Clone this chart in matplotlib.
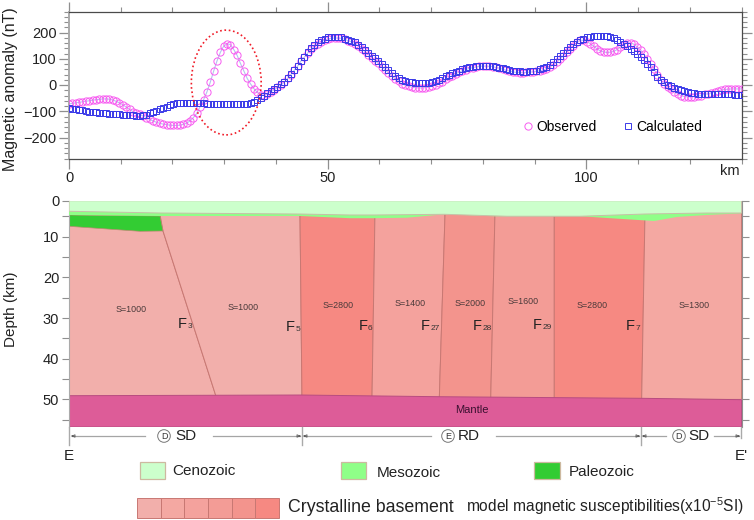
import matplotlib
matplotlib.use("Agg")
import matplotlib.pyplot as plt
import numpy as np
from matplotlib.patches import Circle, Ellipse, Rectangle

plt.rcParams['font.family'] = ['Liberation Sans', 'DejaVu Sans']
plt.rcParams['mathtext.default'] = 'regular'

# profile sampled every 0.65 km
km = 0.65 * np.arange(201)
observed = [
    -72, -70, -68, -66, -64, -62, -60, -58, -56, -55,
    -53, -53, -54, -57, -62, -68, -75, -84, -93, -101,
    -106, -112, -118, -124, -131, -137, -142, -146, -149, -151,
    -153, -154, -154, -153, -150, -145, -137, -124, -108, -82,
    -57, -27, 10, 52, 91, 124, 148, 157, 154, 135,
    113, 82, 54, 25, 4, -14, -28, -37, -40, -34,
    -26, -18, -9, 0, 11, 25, 40, 56, 72, 92,
    106, 122, 136, 148, 158, 165, 171, 175, 178, 179,
    179, 178, 174, 169, 164, 158, 149, 139, 128, 116,
    104, 93, 82, 70, 58, 46, 35, 24, 14, 5,
    -1, -5, -8, -10, -11, -11, -10, -8, -5, 0,
    6, 13, 21, 29, 36, 43, 49, 54, 59, 63,
    66, 69, 71, 72, 72, 71, 70, 67, 64, 60,
    56, 53, 50, 48, 47, 47, 48, 49, 50, 52,
    54, 57, 62, 69, 77, 87, 99, 112, 125, 138,
    150, 162, 171, 170, 165, 158, 148, 138, 130, 126,
    124, 125, 128, 135, 145, 153, 159, 161, 155, 145,
    133, 117, 98, 80, 60, 40, 19, 5, -7, -17,
    -25, -33, -40, -44, -45, -45, -44, -42, -40, -36,
    -33, -30, -26, -22, -19, -17, -16, -15, -15, -15,
    -15]
calculated = [
    -89, -91, -93, -95, -97, -99, -101, -102, -104, -105,
    -107, -108, -109, -110, -111, -112, -113, -114, -115, -116,
    -118, -118, -116, -113, -108, -103, -98, -92, -86, -82,
    -77, -73, -70, -69, -68, -68, -69, -69, -70, -70,
    -70, -71, -71, -72, -72, -72, -73, -73, -73, -74,
    -73, -73, -72, -71, -68, -65, -58, -50, -40, -32,
    -24, -16, -7, 2, 13, 27, 42, 57, 73, 91,
    108, 125, 141, 154, 165, 172, 177, 181, 183, 184,
    184, 182, 177, 172, 167, 162, 153, 143, 133, 122,
    111, 101, 90, 79, 68, 57, 46, 36, 27, 20,
    16, 13, 10, 8, 6, 6, 6, 8, 11, 15,
    20, 26, 33, 39, 45, 50, 55, 60, 64, 67,
    70, 72, 73, 74, 73, 72, 71, 69, 66, 63,
    60, 57, 55, 53, 52, 51, 51, 52, 53, 55,
    60, 64, 70, 78, 87, 98, 110, 122, 134, 146,
    156, 165, 172, 177, 181, 183, 185, 186, 186, 186,
    185, 184, 178, 172, 165, 157, 148, 139, 130, 118,
    107, 94, 80, 67, 50, 32, 20, 10, 1, -5,
    -10, -15, -19, -23, -27, -30, -32, -33, -34, -35,
    -35, -35, -35, -35, -35, -36, -36, -36, -37, -37,
    -38]

# section boundaries, km / depth as drawn
surface_km = [0, 130]
surface_d = [1.18, 1.18]
ceno_km = [0, 17.6, 44.65, 54.3, 59, 72.6, 84.7, 98.8, 111.3, 123.3, 130]
ceno_d = [3.78, 4.2, 4.45, 4.69, 4.69, 4.52, 5.0, 5.0, 4.45, 4.2, 4.2]
base_km = [0, 17.6, 44.65, 54.3, 59, 65.3, 72.6, 82.35, 84.7, 98.8, 104, 113.1, 117.5, 123.3, 130]
base_d = [4.69, 4.94, 4.94, 5.48, 5.48, 5.36, 4.52, 5.0, 5.0, 5.0, 5.43, 6.17, 5.18, 4.69, 4.28]
paleo_km = [0, 17.6, 18.17, 13.73, 0]
paleo_d = [4.69, 4.94, 8.62, 8.7, 7.47]
mantle_km = [0, 44.65, 71.6, 110.7, 130]
mantle_d = [49.09, 48.92, 49.34, 49.73, 50.07]
section_bottom = 56.78

faults_km = [[0, 0],
             [17.5, 18.17, 28.61],
             [44.65, 45.04],
             [59.15, 58.57],
             [72.7, 71.58],
             [82.35, 81.52],
             [93.81, 93.81],
             [111.35, 110.7],
             [130, 130]]
faults_d = [[4, 50],
            [4, 8.62, 50],
            [4, 50],
            [4, 50],
            [4, 50],
            [4, 50],
            [4, 50],
            [4, 50],
            [4, 50]]
block_colors = ['#F2AFAB', '#F2AFAB', '#F68982', '#F4A29D', '#F3948D', '#F39C96', '#F68982', '#F4A8A2']

s_labels = ['S=1000', 'S=1000', 'S=2800', 'S=1400', 'S=2000', 'S=1600', 'S=2800', 'S=1300']
s_x = [131, 243, 338, 410, 470, 523, 592, 694]
s_y = [310, 307, 305, 303, 303, 302, 306, 305]
f_subs = ['3', '5', '6', '27', '28', '29', '7']
f_x = [178, 286, 358.5, 421, 473, 533, 626]
f_y = [324, 327, 326, 326, 326, 325, 326]
legend_shades = ['#F2AFAB', '#F4A8A2', '#F4A29D', '#F39C96', '#F3948D', '#F68982']

W, H = 754, 520
fig = plt.figure(figsize=(W / 100, H / 100), dpi=100)


def px_axes(left, top, right, bottom):
    return fig.add_axes([left / W, 1 - bottom / H, (right - left) / W, (bottom - top) / H])


GRAY = '#8f8f8f'
DARK = '#4a4a4a'

# magnetic panel
ax = px_axes(69, 11.5, 741.5, 158.5)
ax.plot(km, observed, color='#B4C4EE', lw=0.8, zorder=2)
ax.plot(km, observed, ls='none', marker='o', ms=5.2, mfc='none', mec='#F75CF0', mew=0.7,
        label='Observed', zorder=3)
ax.plot(km, calculated, ls='none', marker='s', ms=4.2, mfc='none', mec='#3A3AE8', mew=0.7,
        label='Calculated', zorder=4)
ax.add_patch(Ellipse((30.4, 9.5), 13.5, 399, fill=False, ec='#F01C28', lw=1.2, ls=(0, (1, 1.6)), zorder=5))
ax.set_xlim(0, 130)
ax.set_ylim(-280, 280)
ax.set_xticks(np.arange(0, 131, 50))
ax.set_xticks(np.arange(0, 131, 10), minor=True)
ax.set_yticks(np.arange(-200, 201, 100))
ax.set_yticks(np.arange(-280, 281, 20), minor=True)
ax.set_yticklabels(['\u2212200', '\u2212100', '0', '100', '200'])
ax.tick_params(axis='both', which='major', length=7, width=0.9, color=GRAY, labelsize=10.5, labelcolor='#222222')
ax.tick_params(axis='both', which='minor', length=3.5, width=0.8, color=GRAY)
ax.tick_params(axis='x', which='both', top=True)
ax.tick_params(axis='y', which='both', right=True, labelright=False)
ax.tick_params(axis='y', which='major', pad=2)
ax.tick_params(axis='x', which='major', pad=2)
for side in ['top', 'bottom', 'right']:
    ax.spines[side].set_color(DARK)
    ax.spines[side].set_linewidth(0.9)
ax.spines['left'].set_color('#aaaaaa')
ax.spines['left'].set_linewidth(1.4)
ax.set_ylabel('Magnetic anomaly (nT)', fontsize=11.5, color='#222222')
ax.yaxis.set_label_coords(-0.076, 0.47)
ax.legend(loc='lower right', bbox_to_anchor=(0.941, 0.165), ncol=2, frameon=False, fontsize=10,
          handletextpad=0.1, columnspacing=1.7, handlelength=1.0, borderpad=0, borderaxespad=0)

# depth section
sec = px_axes(69, 200.7, 741.5, 427)
for i, color in enumerate(block_colors):
    xs = list(faults_km[i]) + list(faults_km[i + 1])[::-1]
    ys = list(faults_d[i]) + list(faults_d[i + 1])[::-1]
    sec.fill(xs, ys, fc=color, ec='#C87873', lw=0.7, zorder=1)
sec.fill(mantle_km + [130, 0], mantle_d + [section_bottom, section_bottom], fc='#DD5C98', ec='#B84C80', lw=0.7, zorder=2)
sec.fill(paleo_km, paleo_d, fc='#33CC33', ec='#B88A70', lw=0.5, zorder=2)
sec.fill(base_km + surface_km[::-1], base_d + surface_d[::-1], fc='#8FFF88', ec='none', zorder=3)
sec.fill(ceno_km + surface_km[::-1], ceno_d + surface_d[::-1], fc='#CCFFCC', ec='#C9BFA8', lw=0.7, zorder=4)
sec.set_xlim(0, 130)
sec.set_ylim(section_bottom, 1.18)
sec.set_xticks([])
sec.set_yticks([1.18, 10, 20, 30, 40, 50])
sec.set_yticklabels(['0', '10', '20', '30', '40', '50'])
sec.set_yticks([5, 15, 25, 35, 45, 55], minor=True)
sec.tick_params(axis='y', which='both', length=5, width=0.8, color=GRAY, labelsize=10.5, labelcolor='#222222',
                right=True, pad=2)
for side in ['top', 'bottom']:
    sec.spines[side].set_visible(False)
sec.spines['left'].set_color('#aaaaaa')
sec.spines['right'].set_color(GRAY)
sec.set_ylabel('Depth (km)', fontsize=11, color='#222222')
sec.yaxis.set_label_coords(-0.076, 0.52)

# annotations placed in image pixels
ov = fig.add_axes([0, 0, 1, 1], facecolor='none', zorder=10)
ov.set_xlim(0, W)
ov.set_ylim(H, 0)
ov.axis('off')

ov.text(720, 171, 'km', fontsize=10.5, va='center', color='#222222')
ov.text(471.5, 410, 'Mantle', fontsize=8, ha='center', va='center', color='#3a1030')
for lab, x, y in zip(s_labels, s_x, s_y):
    ov.text(x, y, lab, fontsize=6.4, ha='center', va='center', color='#4a3a3a')
for sub, x, y in zip(f_subs, f_x, f_y):
    ov.text(x, y, 'F', fontsize=10.5, va='center', color='#222222')
    ov.text(x + 9.5, y + 2.5, sub, fontsize=6, va='center', color='#333333')

# tectonic units under the section
for x, y1 in [(69, 445), (302, 445), (640.7, 445), (741, 438)]:
    ov.plot([x, x], [427, y1], color='#aaaaaa', lw=1)
for x0, x1 in [(72, 145), (213, 300), (304, 431), (496, 639), (643, 666), (714, 739)]:
    ov.plot([x0, x1], [436, 436], color='#a5a5a5', lw=0.9)
arrows = [(72, 1), (300, -1), (304, 1), (639, -1), (643, 1), (739, -1)]
for x, d in arrows:
    ov.plot([x, x + 3 * d, x + 3 * d, x], [436, 434.8, 437.2, 436], color='#555555', lw=0.6)
for x, letter in [(164, 'D'), (448, 'E'), (679, 'D')]:
    ov.add_patch(Circle((x, 436), 6.3, fc='white', ec='#777777', lw=0.7))
    ov.text(x, 436.3, letter, fontsize=6.5, ha='center', va='center', color='#333333')
for x, lab in [(175, 'SD'), (458, 'RD'), (688, 'SD')]:
    ov.text(x, 436, lab, fontsize=11, va='center', color='#222222')
ov.text(64, 456, 'E', fontsize=11, va='center', color='#222222')
ov.text(735, 456, "E'", fontsize=11, va='center', color='#222222')

# rock legend
for x, color, lab, tx, ty in [(139.5, '#CCFFCC', 'Cenozoic', 172, 471),
                              (340.7, '#8FFF88', 'Mesozoic', 376.5, 473),
                              (534.3, '#33CC33', 'Paleozoic', 569, 472)]:
    ov.add_patch(Rectangle((x, 462.3), 25.6, 17, fc=color, ec='#CDB9A0', lw=0.9))
    ov.text(tx, ty, lab, fontsize=11, va='center', color='#222222')
cell = (278.7 - 137.3) / len(legend_shades)
for i, color in enumerate(legend_shades):
    ov.add_patch(Rectangle((137.3 + i * cell, 498.3), cell, 20, fc=color, ec='#C87873', lw=0.7))
ov.text(288, 507, 'Crystalline basement', fontsize=12.8, va='center', color='#222222')
ov.text(465.5, 506, 'model magnetic susceptibilities(x10$^{-5}$SI)', fontsize=11.2, va='center', color='#222222')

fig.savefig('out.png', dpi=100)
